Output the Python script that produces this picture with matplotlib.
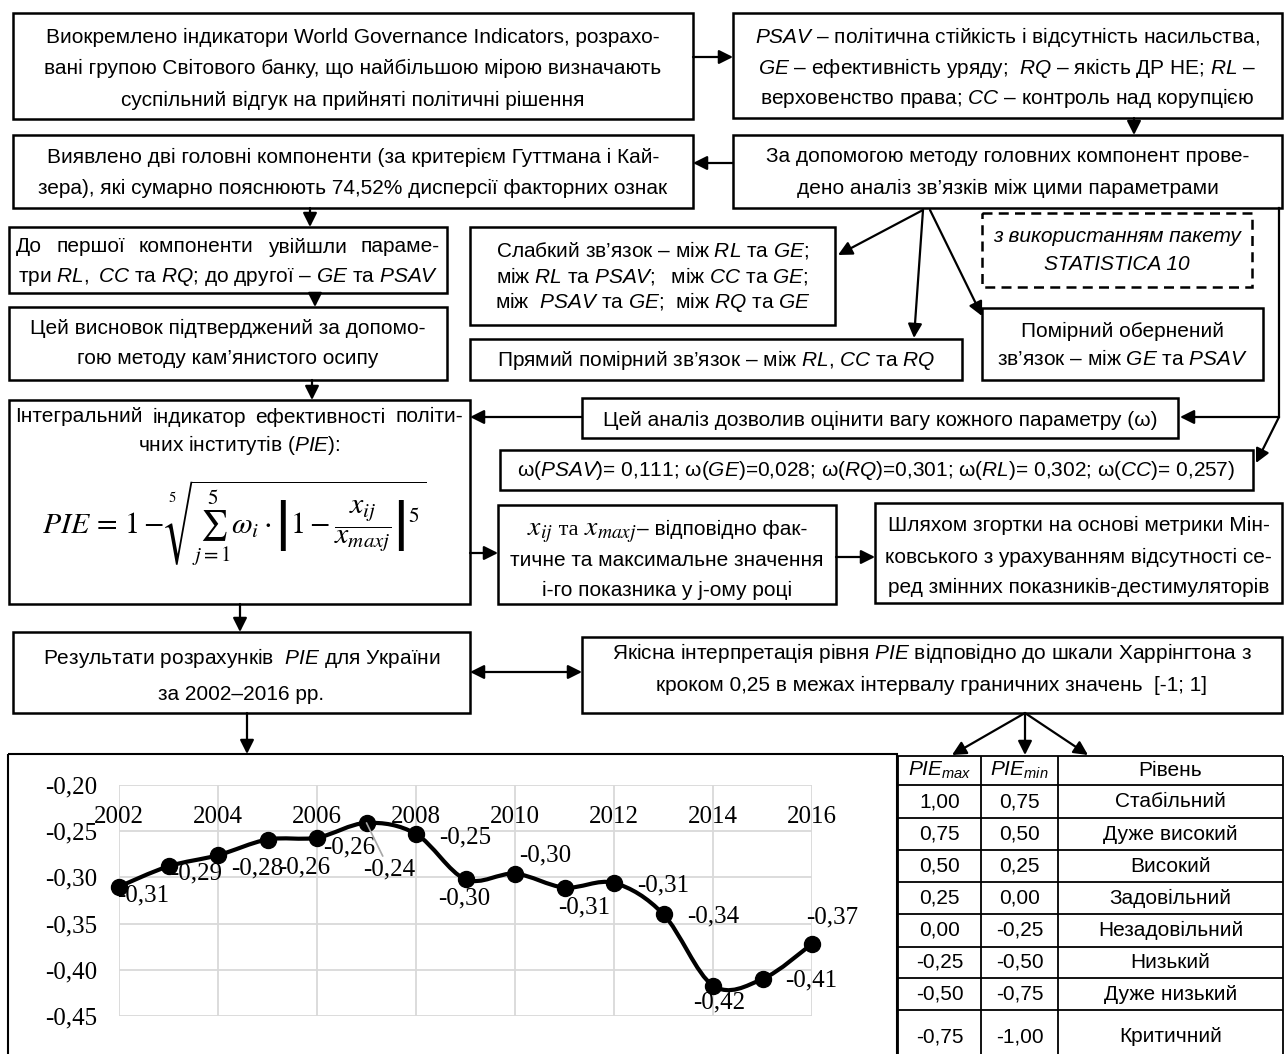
import matplotlib
matplotlib.use('Agg')
import matplotlib.pyplot as plt
import numpy as np
from matplotlib import font_manager
from matplotlib.patches import Rectangle, PathPatch, ArrowStyle
from matplotlib.path import Path

# --- data -------------------------------------------------------------
years = np.arange(2002, 2017)
pie = [-0.310, -0.288, -0.276, -0.259, -0.257, -0.241, -0.253, -0.302,
       -0.296, -0.311, -0.306, -0.340, -0.417, -0.410, -0.372]
y_ticks = [-0.20, -0.25, -0.30, -0.35, -0.40, -0.45]
x_ticks = [2002, 2004, 2006, 2008, 2010, 2012, 2014, 2016]

pie_max = [1.00, 0.75, 0.50, 0.25, 0.00, -0.25, -0.50, -0.75]
pie_min = [0.75, 0.50, 0.25, 0.00, -0.25, -0.50, -0.75, -1.00]
levels = ['Стабільний', 'Дуже високий', 'Високий', 'Задовільний',
          'Незадовільний', 'Низький', 'Дуже низький', 'Критичний']

# --- fonts ------------------------------------------------------------
available = {f.name for f in font_manager.fontManager.ttflist}
SANS = 'Liberation Sans Narrow' if 'Liberation Sans Narrow' in available else 'Liberation Sans'
FS = 17 if SANS == 'Liberation Sans Narrow' else 15
SERIF = 'Liberation Serif'

plt.rcParams['font.family'] = [SANS, 'DejaVu Sans']
plt.rcParams['mathtext.fontset'] = 'custom'
plt.rcParams['mathtext.rm'] = SANS
plt.rcParams['mathtext.it'] = SANS + ':italic'
plt.rcParams['mathtext.bf'] = SANS + ':bold'
plt.rcParams['mathtext.sf'] = SANS


def fmt(v):
    return f"{v:.2f}".replace('.', ',')


W, H = 1285, 1054
fig = plt.figure(figsize=(W / 100, H / 100), dpi=100)
base = fig.add_axes([0, 0, 1, 1])
base.set_xlim(0, W)
base.set_ylim(H, 0)
base.axis('off')

HEAD = ArrowStyle('-|>', head_length=0.6, head_width=0.3)
HEAD2 = ArrowStyle('<|-|>', head_length=0.6, head_width=0.3)


def box(x0, y0, x1, y1, lines=(), ys=(), xc=None, dashed=False, **kw):
    base.add_patch(Rectangle((x0, y0), x1 - x0, y1 - y0, fill=False, lw=1.8,
                             ec='k', ls=(0, (4, 2.5)) if dashed else '-'))
    xc = (x0 + x1) / 2 if xc is None else xc
    for s, y in zip(lines, ys):
        base.text(xc, y, s, ha='center', va='center', fontsize=FS, **kw)


def arrow(x0, y0, x1, y1, style=HEAD):
    base.annotate('', xy=(x1, y1), xytext=(x0, y0),
                  arrowprops=dict(arrowstyle=style, mutation_scale=14, lw=1.6,
                                  color='k', shrinkA=0, shrinkB=0))


def justified(x0, x1, y, line, **kw):
    words = line.split()
    texts = [base.text(0, y, w, ha='left', va='center', fontsize=FS, **kw) for w in words]
    r = fig.canvas.get_renderer()
    widths = [t.get_window_extent(r).width for t in texts]
    gap = (x1 - x0 - sum(widths)) / (len(words) - 1)
    x = x0
    for t, w in zip(texts, widths):
        t.set_x(x)
        x += w + gap


def run(xc, y, pieces):
    # pieces of differently styled text placed side by side on one baseline
    r = fig.canvas.get_renderer()
    texts = [base.text(0, y, s, ha='left', va='baseline', **kw) for s, kw in pieces]
    widths = [t.get_window_extent(r).width for t in texts]
    x = xc - sum(widths) / 2
    for t, w in zip(texts, widths):
        t.set_x(x)
        x += w


# --- upper flow -------------------------------------------------------
box(13, 13, 693, 119,
    ['Виокремлено індикатори World Governance Indicators, розрахо-',
     'вані групою Світового банку, що найбільшою мірою визначають',
     'суспільний відгук на прийняті політичні рішення'], [37, 68, 100])
box(733, 13, 1282, 118,
    [r'$\mathit{PSAV}$ – політична стійкість і відсутність насильства,',
     r'$\mathit{GE}$ – ефективність уряду;  $\mathit{RQ}$ – якість ДР НЕ; $\mathit{RL}$ –',
     r'верховенство права; $\mathit{CC}$ – контроль над корупцією'], [37, 68, 98])
box(13, 135, 693, 208,
    ['Виявлено дві головні компоненти (за критерієм Гуттмана і Кай-',
     'зера), які сумарно пояснюють 74,52% дисперсії факторних ознак'], [157, 188])
box(733, 135, 1282, 208,
    ['За допомогою методу головних компонент прове-',
     'дено аналіз зв’язків між цими параметрами'], [157, 188])

box(9, 227, 447, 293,
    [r'три $\mathit{RL},\ \mathit{CC}$ та $\mathit{RQ}$; до другої – $\mathit{GE}$ та $\mathit{PSAV}$'],
    [277])
justified(16, 440, 247, 'До першої компоненти увійшли параме-')

box(470, 227, 835, 325,
    [r'Слабкий зв’язок – між $\mathit{RL}$ та $\mathit{GE}$;',
     r'між $\mathit{RL}$ та $\mathit{PSAV};$  між $\mathit{CC}$ та $\mathit{GE}$;',
     r'між  $\mathit{PSAV}$ та $\mathit{GE}$;  між $\mathit{RQ}$ та $\mathit{GE}$'], [250, 276, 302])
box(982, 213, 1252, 287, ['з використанням пакету', 'STATISTICA 10'], [236, 264],
    dashed=True, fontstyle='italic')

box(9, 307, 447, 380,
    ['Цей висновок підтверджений за допомо-', 'гою методу кам’янистого осипу'], [328, 358])
box(470, 339, 962, 380,
    [r'Прямий помірний зв’язок – між $\mathit{RL}$, $\mathit{CC}$ та $\mathit{RQ}$'], [360])
box(982, 308, 1263, 380,
    ['Помірний обернений', r'зв’язок – між $\mathit{GE}$ та $\mathit{PSAV}$'], [331, 359])

box(9, 400, 470, 604, [r'чних інститутів ($\mathit{PIE}$):'], [445])
justified(15, 463, 417, 'Інтегральний індикатор ефективності політи-')
base.text(234, 523,
          r'$PIE\,=\,1-\sqrt[5]{\sum_{j=1}^{5}\omega_i\cdot\left|1-\dfrac{x_{ij}}{x_{maxj}}\right|^5}$',
          ha='center', va='center', fontsize=21.5, math_fontfamily='stix')

box(582, 398, 1178, 438, ['Цей аналіз дозволив оцінити вагу кожного параметру (ω)'], [420])
box(500, 450, 1253, 490,
    [r'ω($\mathit{PSAV}$)= 0,111; ω($\mathit{GE}$)=0,028; ω($\mathit{RQ}$)=0,301; '
     r'ω($\mathit{RL}$)= 0,302; ω($\mathit{CC}$)= 0,257)'], [470])
box(498, 505, 836, 604, [], [])
run(667, 535, [(r'$x_{ij}$', dict(fontsize=20, math_fontfamily='stix')),
               (' та ', dict(fontsize=FS + 1, family=SERIF)),
               (r'$x_{maxj}$', dict(fontsize=20, math_fontfamily='stix')),
               ('– відповідно фак-', dict(fontsize=FS))])
base.text(667, 561, 'тичне та максимальне значення', ha='center', va='center', fontsize=FS)
base.text(667, 590, 'і-го показника у j-ому році', ha='center', va='center', fontsize=FS)
box(875, 503, 1282, 603,
    ['Шляхом згортки на основі метрики Мін-',
     'ковського з урахуванням відсутності се-',
     'ред змінних показників-дестимуляторів'], [525, 557, 587])

box(13, 632, 470, 713,
    [r'Результати розрахунків  $\mathit{PIE}$ для України', 'за 2002–2016 рр.'], [658, 695])
box(582, 637, 1282, 713,
    [r'Якісна інтерпретація рівня $\mathit{PIE}$ відповідно до шкали Харрінгтона з',
     'кроком 0,25 в межах інтервалу граничних значень  [-1; 1]'], [653, 685])

# --- arrows -----------------------------------------------------------
arrow(693, 57, 733, 57)
arrow(1134, 118, 1134, 135)
arrow(733, 163, 693, 163)
arrow(310, 208, 310, 227)
arrow(315, 293, 315, 307)
arrow(312, 380, 312, 400)
arrow(923, 210, 838, 255)
arrow(923, 210, 914, 338)
arrow(930, 210, 982, 316)
base.plot([1279, 1279], [208, 417], color='k', lw=1.6)
arrow(1279, 417, 1180, 417)
arrow(1279, 417, 1256, 463)
arrow(582, 417, 470, 417)
arrow(470, 553, 498, 553)
arrow(836, 557, 875, 557)
arrow(240, 604, 240, 632)
arrow(470, 672, 582, 672, style=HEAD2)
arrow(247, 713, 247, 754)
for tx in (952, 1025, 1088):
    arrow(1025, 713, tx, 755)

# --- chart ------------------------------------------------------------
base.add_patch(Rectangle((8, 754), 889, 320, fill=False, lw=1.5, ec='k'))
cx0, cx1, cy0, cy1 = 119, 812, 785, 1016
chart = fig.add_axes([cx0 / W, 1 - cy1 / H, (cx1 - cx0) / W, (cy1 - cy0) / H])
chart.set_facecolor('none')
for sp in chart.spines.values():
    sp.set_visible(False)
# year labels sit inside the plot area, just below the -0,20 line
chart.spines['bottom'].set_position(('data', -0.2215))
chart.set_xlim(2002, 2016)
chart.set_ylim(-0.45, -0.20)
chart.set_xticks(x_ticks)
chart.set_xticklabels([str(x) for x in x_ticks], fontsize=18, family=SERIF)
chart.set_yticks(y_ticks)
chart.set_yticklabels([fmt(v) for v in y_ticks], fontsize=18, family=SERIF)
chart.grid(True, color='#d9d9d9', lw=1.3)
chart.set_axisbelow(True)
chart.tick_params(axis='x', length=0, pad=1)
chart.tick_params(axis='y', length=0, pad=16)

# smooth (Excel-like) line through the points
pts = np.column_stack([years, pie]).astype(float)
verts = [pts[0]]
codes = [Path.MOVETO]
n = len(pts)
for i in range(n - 1):
    p_prev = pts[max(i - 1, 0)]
    p_next2 = pts[min(i + 2, n - 1)]
    c1 = pts[i] + (pts[i + 1] - p_prev) / 6
    c2 = pts[i + 1] - (p_next2 - pts[i]) / 6
    verts += [c1, c2, pts[i + 1]]
    codes += [Path.CURVE4] * 3
chart.add_patch(PathPatch(Path(verts, codes), fill=False, lw=3, ec='k', clip_on=False))
chart.plot(years, pie, 'o', color='k', ms=11.5, clip_on=False)

label_offsets = [(24, 9), (28, 7), (39, 13), (37, 28), (32, 10), (23, 47), (49, 3), (-1, 19),
                 (30, -18), (20, 20), (49, 3), (50, 2), (6, 17), (49, 1), (20, -26)]
for yr, v, (dx, dy) in zip(years, pie, label_offsets):
    props = None
    if yr == 2007:
        props = dict(arrowstyle='-', color='#a6a6a6', lw=1.2, shrinkA=0, shrinkB=0)
    chart.annotate(fmt(v), xy=(yr, v), xytext=(dx, -dy), textcoords='offset pixels',
                   ha='center', va='center', fontsize=18, family=SERIF,
                   arrowprops=props, annotation_clip=False)

# --- table ------------------------------------------------------------
col_x = [898, 981, 1058, 1283]
row_y = [756, 785, 818, 850, 882, 914, 947, 978, 1010, 1060]
base.hlines(row_y[:-1], col_x[0], col_x[-1], color='k', lw=1.3)
base.vlines(col_x, row_y[0], row_y[-1], color='k', lw=1.3)
centers = [(col_x[i] + col_x[i + 1]) / 2 for i in range(3)]
hy = (row_y[0] + row_y[1]) / 2
base.text(centers[0], hy, r'$\mathit{PIE}_{max}$', ha='center', va='center', fontsize=FS)
base.text(centers[1], hy, r'$\mathit{PIE}_{min}$', ha='center', va='center', fontsize=FS)
base.text(centers[2], hy, 'Рівень', ha='center', va='center', fontsize=FS)
for i, (a, b, lv) in enumerate(zip(pie_max, pie_min, levels)):
    yc = (row_y[i + 1] + row_y[i + 2]) / 2 if i < 7 else 1037
    base.text(centers[0], yc, fmt(a), ha='center', va='center', fontsize=FS)
    base.text(centers[1], yc, fmt(b), ha='center', va='center', fontsize=FS)
    base.text(centers[2], yc, lv, ha='center', va='center', fontsize=FS)

fig.savefig('out.png', dpi=100)
